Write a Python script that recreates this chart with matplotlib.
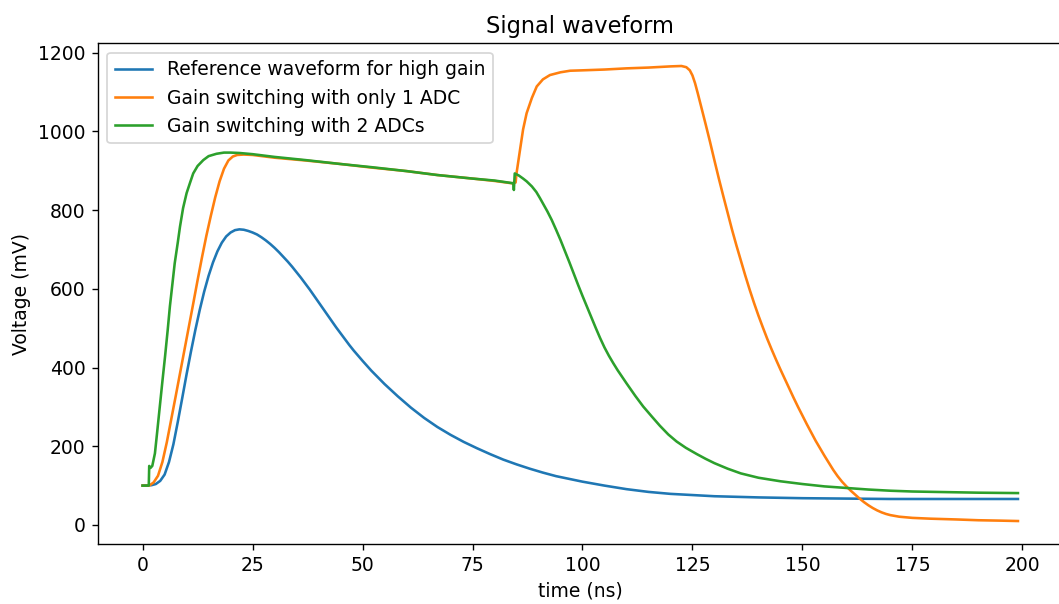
import numpy as np
import matplotlib
matplotlib.use('Agg')
import matplotlib.pyplot as plt

# values (time in ns, voltage in mV)
t_ref = [0, 2, 3, 4, 5, 6, 7, 8, 9, 10, 11, 12, 13, 14, 15, 16, 17, 18, 19, 20,
         21, 22, 23, 24, 25, 26, 27, 28, 29, 30, 31, 32, 33, 34, 35, 36, 37, 38,
         39, 40, 41, 42, 43, 44, 45, 46, 47, 48, 49, 50, 52, 55, 58, 61, 64, 67,
         70, 73, 76, 79, 82, 85, 88, 91, 94, 97, 100, 105, 110, 115, 120, 125,
         130, 140, 150, 160, 170, 180, 190, 199]
v_ref = [100, 101, 104, 112, 128, 160, 205, 262, 322, 383, 441, 496, 547, 593,
         633, 667, 695, 717, 733, 743, 749, 751, 750, 747, 743, 738, 731, 723,
         714, 704, 693, 681, 669, 656, 642, 628, 613, 598, 582, 566, 550, 534,
         518, 502, 487, 472, 457, 443, 430, 417, 392, 358, 327, 298, 272, 249,
         229, 211, 195, 180, 166, 154, 143, 133, 124, 117, 110, 100, 91, 84, 79,
         76, 73, 70, 68, 67, 66, 66, 66, 66]

t_one = [0, 1.5, 2.5, 3.5, 4.5, 5.5, 6.5, 7.5, 8.5, 9.5, 10.5, 11.5, 12.5, 13.5,
         14.5, 15.5, 16.5, 17.5, 18.5, 19.5, 20.5, 21.5, 23, 25, 30, 37, 45, 52,
         60, 67, 75, 80, 84, 84.8, 85.0, 85.8, 86.5, 87.3, 88.5, 89.6, 91, 92.6,
         95, 97.2, 100, 105, 110, 115, 120, 122.5, 123.6, 124.4, 125, 125.6, 126.2,
         127, 128, 129, 130, 131, 132, 133, 134, 135, 136, 137, 138, 139, 140,
         141, 142, 143, 144, 145, 146, 147, 148, 149, 150, 151, 152, 153, 154,
         155, 156, 157, 158, 159, 160, 161, 162, 163, 164, 165, 166, 167, 168,
         169, 170, 172, 175, 179, 185, 190, 195, 199]
v_one = [100, 100, 108, 125, 160, 210, 268, 326, 385, 444, 503, 562, 622, 680,
         735, 785, 832, 873, 905, 926, 936, 940, 941, 940, 933, 926, 917, 908,
         899, 889, 880, 874, 868, 870, 893, 953, 1005, 1046, 1085, 1114, 1132,
         1143, 1150, 1154, 1155, 1157, 1160, 1162, 1165, 1166, 1163, 1155, 1142,
         1122, 1097, 1062, 1018, 973, 926, 880, 836, 793, 750, 710, 672, 634,
         598, 564, 532, 502, 473, 446, 420, 395, 371, 347, 323, 300, 278, 256,
         235, 214, 195, 176, 158, 140, 124, 110, 98, 87, 77, 67, 58, 50, 43, 37,
         32, 28, 25, 21, 18, 16, 14, 12, 11, 10]

t_two = [0, 1.4, 1.5, 1.8, 2.2, 2.8, 3.3, 3.9, 4.5, 5.1, 5.7, 6.2, 6.8, 7.3,
         8.0, 8.5, 9.2, 10, 10.8, 11.5, 12.5, 13.8, 15, 16.8, 18.5, 20, 22, 25,
         30, 37, 45, 52, 60, 67, 75, 80, 84.3, 84.4, 84.6, 85.5, 86.5, 87.3,
         88.5, 89.5, 90.3, 91, 92, 93, 94, 95, 96, 97, 98, 99, 100, 101, 102, 103,
         104, 105, 106, 107, 108, 110, 112, 113.8, 115.8, 117.6, 119.5, 121.4,
         123.5, 126, 128, 130, 133, 136, 140, 145, 150, 155, 160, 165, 170, 175,
         180, 190, 199]
v_two = [100, 100, 150, 145, 150, 182, 235, 300, 365, 428, 495, 555, 615, 665,
         718, 758, 805, 843, 870, 893, 912, 927, 937, 943, 946, 946, 945, 942,
         935, 927, 917, 909, 899, 889, 880, 875, 868, 851, 893, 888, 880, 873,
         860, 846, 831, 817, 797, 775, 750, 724, 696, 668, 639, 610, 582, 555,
         528, 501, 475, 451, 430, 411, 393, 360, 328, 301, 275, 252, 230, 212,
         196, 180, 168, 157, 143, 131, 120, 111, 104, 98, 94, 90, 87, 85, 84, 82,
         81]

labels = ['Reference waveform for high gain',
          'Gain switching with only 1 ADC',
          'Gain switching with 2 ADCs']

plt.rcParams['font.size'] = 10.9

dpi = 124
fig = plt.figure(figsize=(1059 / dpi, 604 / dpi), dpi=dpi)
# the reference is cropped on the right, so the axes run past the figure edge
ax = fig.add_axes([0.0923, 0.0997, 0.93, 0.8287])

ax.plot(t_ref, v_ref, label=labels[0])
ax.plot(t_one, v_one, label=labels[1])
ax.plot(t_two, v_two, label=labels[2])

ax.set_xlim(-10.2, 213.7)
ax.set_title('Signal waveform', x=0.49)
ax.set_xlabel('time (ns)', x=0.49)
ax.set_ylabel('Voltage (mV)')
ax.legend(loc='upper left')

fig.savefig('out.png', dpi=dpi)
